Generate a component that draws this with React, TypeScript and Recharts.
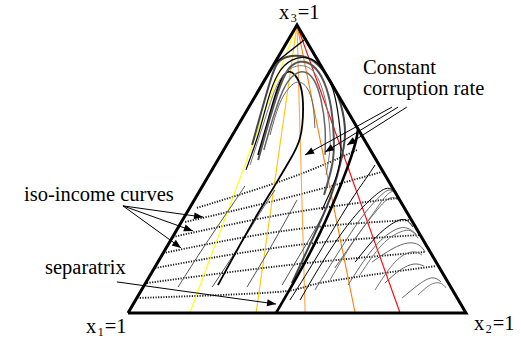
import React from 'react';
import { LineChart, Line, XAxis, YAxis } from 'recharts';

type Pt = [number, number];

// x = position along the x1 -> x2 edge, y = share of x3 (both in %)
const WIDTH = 521;
const HEIGHT = 340;
const MARGIN = { top: 10.6, right: 21.2, bottom: 12.6, left: 94.2 };
const X_DOMAIN: [number, number] = [-10, 110];
const Y_DOMAIN: [number, number] = [-5, 105];
const PX_X = (WIDTH - MARGIN.left - MARGIN.right) / (X_DOMAIN[1] - X_DOMAIN[0]);
const PX_Y = (HEIGHT - MARGIN.top - MARGIN.bottom) / (Y_DOMAIN[1] - Y_DOMAIN[0]);

const simplex: Pt[] = [[0, 0], [100, 0], [50, 100], [0, 0]];

// constant corruption rate rays, all leaving the x3 vertex
const apex: Pt = [50, 100];
const rayFeet = [18.3, 37.9, 52.4, 67.2, 80.5];
const rayColors = ['#ffff00', '#ffc400', '#ffa640', '#ff7a00', '#ff0000'];

const isoIncome: Pt[][] = [
  [[20.4, 36.5], [47.9, 46.9], [67.8, 56.6]],
  [[16.9, 31.6], [47.9, 40.3], [75.1, 49.0]],
  [[13.3, 26.4], [47.9, 34.7], [79.9, 39.9]],
  [[10.4, 20.8], [47.9, 28.8], [83.4, 32.3]],
  [[8.0, 15.6], [47.9, 23.3], [86.4, 27.1]],
  [[5.6, 10.4], [47.9, 16.7], [87.9, 21.2]],
  [[2.7, 5.2], [44.1, 7.3], [56.8, 10.4], [91.1, 16.3]],
];

const separatrix: Pt[] = [[43.8, 0], [50.3, 13.2], [56.8, 27.8], [62.1, 42.0], [65.7, 53.1], [67.5, 60.1], [68.0, 63.5]];

// trajectories that wind up near the x3 corner
const hooks: { pts: Pt[]; color: string; w: number }[] = [
  {
    pts: [[48.5, 10.4], [54.4, 25.3], [59.8, 39.9], [62.7, 51.4], [64.2, 61.8], [63.0, 72.2], [60.1, 80.2], [55.9, 86.5], [51.2, 89.2], [47.0, 88.9], [44.1, 86.5], [42.0, 80.2], [39.6, 70.5], [36.7, 58.3]],
    color: '#444', w: 2,
  },
  {
    pts: [[26.6, 9.7], [33.1, 23.6], [38.5, 34.7], [43.5, 44.4], [47.9, 53.1], [50.9, 60.8], [51.8, 70.5], [51.2, 78.1], [49.4, 82.6], [47.3, 83.7], [45.3, 80.9], [43.2, 74.0], [40.8, 64.2], [38.5, 54.9]],
    color: '#000', w: 1.8,
  },
  {
    pts: [[38.5, 53.1], [41.4, 65.3], [44.4, 76.7], [47.3, 84.4], [50.9, 87.2], [54.7, 85.8], [58.0, 80.2], [60.1, 71.2], [60.9, 60.8], [60.4, 51.4], [58.0, 41.0]],
    color: '#555', w: 2,
  },
  {
    pts: [[40.2, 56.6], [42.9, 67.7], [45.9, 77.4], [48.8, 82.3], [52.1, 83.7], [55.0, 80.9], [57.1, 74.0], [58.3, 64.2], [58.3, 54.9]],
    color: '#666', w: 1.5,
  },
  {
    pts: [[34.9, 49.7], [38.5, 61.8], [41.4, 74.0], [44.4, 83.0], [48.5, 87.8], [53.3, 88.5], [57.4, 85.1], [60.7, 77.4], [62.4, 67.0], [63.0, 56.6], [61.5, 46.9], [57.4, 35.8]],
    color: '#000', w: 1.2,
  },
  {
    pts: [[36.1, 51.4], [39.6, 63.9], [42.9, 75.7], [46.2, 83.0], [50.3, 85.8], [54.4, 84.4], [57.4, 78.1], [59.2, 68.8], [59.8, 58.3], [58.6, 47.9]],
    color: '#777', w: 1,
  },
  {
    pts: [[42.0, 61.8], [44.7, 72.2], [47.6, 78.1], [50.3, 80.2], [53.0, 78.1], [54.7, 72.2], [55.3, 64.2]],
    color: '#666', w: 1,
  },
];

const chord: Pt[] = [[43.5, 86.8], [52.1, 94.8]];

const lowerLeft: Pt[][] = [
  [[14.8, 9.0], [22.8, 23.6], [30.8, 37.5], [34.6, 44.1]],
  [[24.9, 9.0], [33.1, 23.6], [39.6, 35.8], [43.5, 42.7]],
  [[35.2, 9.0], [41.4, 21.2], [46.4, 31.6], [50.0, 39.2]],
  [[45.6, 9.7], [50.3, 19.1], [54.4, 27.1], [57.7, 34.0]],
];

// trajectories ending on the x2-x3 edge
const rightSide: { pts: Pt[]; color: string }[] = [
  { pts: [[47.9, 4.5], [55.3, 18.4], [64.2, 35.8], [70.1, 46.2], [73.1, 51.4]], color: '#000' },
  { pts: [[50.9, 4.5], [58.3, 19.1], [65.7, 31.6], [71.6, 39.2], [76.0, 43.1], [78.4, 42.7]], color: '#000' },
  { pts: [[55.3, 8.0], [62.7, 21.9], [69.2, 33.3], [74.0, 39.9], [77.2, 42.7], [79.3, 41.3]], color: '#666' },
  { pts: [[59.8, 11.5], [66.0, 23.6], [72.2, 34.0], [76.3, 40.6], [79.0, 42.4], [79.6, 40.6]], color: '#777' },
  { pts: [[61.2, 15.6], [68.0, 27.1], [73.7, 35.8], [77.5, 39.9], [80.2, 39.2]], color: '#666' },
  { pts: [[67.2, 17.7], [73.7, 26.7], [79.0, 31.6], [82.2, 32.3], [84.3, 29.9]], color: '#000' },
  { pts: [[65.1, 9.7], [72.2, 21.9], [78.4, 28.5], [82.5, 29.5], [85.2, 27.4]], color: '#666' },
  { pts: [[68.6, 13.2], [75.1, 23.6], [80.5, 28.1], [83.7, 28.5], [85.8, 26.0]], color: '#777' },
  { pts: [[72.2, 17.7], [78.1, 22.2], [82.8, 24.3], [86.1, 23.6], [87.9, 21.2]], color: '#666' },
  { pts: [[73.1, 8.0], [79.0, 17.7], [84.0, 21.2], [87.0, 20.1]], color: '#777' },
  { pts: [[76.0, 10.4], [80.5, 14.9], [84.6, 17.0], [87.6, 16.3]], color: '#666' },
  { pts: [[81.1, 5.2], [85.8, 9.7], [89.9, 12.2], [92.6, 10.8]], color: '#666' },
  { pts: [[85.8, 6.2], [89.3, 9.7], [92.3, 10.4], [94.1, 8.7]], color: '#777' },
];

// annotation pointers
const isoArrows: Pt[][] = [
  [[-1.5, 37.2], [22.2, 33.3]],
  [[-1.5, 37.2], [19.2, 28.5]],
  [[-1.5, 37.2], [15.7, 22.6]],
];
const separatrixArrow: Pt[] = [[-3.3, 10.8], [43.8, 3.1]];
const corruptionArrows: Pt[][] = [
  [[78.1, 71.5], [52.4, 54.9]],
  [[79.9, 71.5], [58.3, 55.9]],
  [[82.5, 71.5], [64.8, 58.3]],
];

const SERIF = '"Liberation Serif", "Times New Roman", Times, serif';
const labelStyle = { fontFamily: SERIF, fontSize: 20.5, fill: '#000' };

const toRows = (pts: Pt[]) => pts.map(([x, y]) => ({ x, y }));

const arrowHead = (pts: Pt[]) => (props: any) => {
  const { cx, cy, index } = props;
  if (index !== pts.length - 1) return <g key={`d${index}`} />;
  const [x0, y0] = pts[pts.length - 2];
  const [x1, y1] = pts[pts.length - 1];
  const ang = Math.atan2(-(y1 - y0) * PX_Y, (x1 - x0) * PX_X);
  const len = 9;
  const half = 3.5;
  const bx = cx - len * Math.cos(ang);
  const by = cy - len * Math.sin(ang);
  const nx = -Math.sin(ang) * half;
  const ny = Math.cos(ang) * half;
  return (
    <polygon
      key={`d${index}`}
      points={`${cx},${cy} ${bx + nx},${by + ny} ${bx - nx},${by - ny}`}
      fill="#000"
    />
  );
};

const curve = (key: string, pts: Pt[], stroke: string, width: number, extra: any = {}) => (
  <Line
    key={key}
    data={toRows(pts)}
    dataKey="y"
    type="natural"
    stroke={stroke}
    strokeWidth={width}
    dot={false}
    activeDot={false}
    isAnimationActive={false}
    {...extra}
  />
);

const App = () => {
  return (
    <div style={{ position: 'absolute', left: 0, top: 0, background: '#fff' }}>
      <LineChart width={WIDTH} height={HEIGHT} margin={MARGIN}>
        <XAxis type="number" dataKey="x" domain={X_DOMAIN} hide />
        <YAxis type="number" domain={Y_DOMAIN} hide />

        {isoIncome.map((c, i) => curve(`iso${i}`, c, '#1a1a1a', 1.9, { strokeDasharray: '1.2 1.4' }))}

        {rayFeet.map((f, i) => curve(`ray${i}`, [apex, [f, 0]], rayColors[i], 1.1, { type: 'linear' }))}

        {lowerLeft.map((c, i) => curve(`ll${i}`, c, '#555', 1))}
        {rightSide.map((c, i) => curve(`rs${i}`, c.pts, c.color, 1))}
        {hooks.map((h, i) => curve(`hk${i}`, h.pts, h.color, h.w))}
        {curve('chord', chord, '#000', 1.5, { type: 'linear' })}
        {curve('sep', separatrix, '#000', 2.6)}

        {curve('frame', simplex, '#000', 3, { type: 'linear', strokeLinejoin: 'miter' })}

        {isoArrows.map((a, i) => curve(`ia${i}`, a, '#000', 1, { type: 'linear', dot: arrowHead(a) }))}
        {curve('sa', separatrixArrow, '#000', 1, { type: 'linear', dot: arrowHead(separatrixArrow) })}
        {corruptionArrows.map((a, i) => curve(`ca${i}`, a, '#000', 1, { type: 'linear', dot: arrowHead(a) }))}

        <text x={24} y={201} style={labelStyle}>iso-income curves</text>
        <text x={45} y={274} style={labelStyle}>separatrix</text>
        <text x={363} y={73.5} style={labelStyle}>Constant</text>
        <text x={363} y={94.5} style={labelStyle}>corruption rate</text>
        <text x={279} y={19} style={labelStyle}>
          x<tspan style={{ fontSize: 12 }} dx={1.5} dy={3}>3</tspan>
          <tspan dx={1} dy={-3}>=1</tspan>
        </text>
        <text x={86} y={333} style={labelStyle}>
          x<tspan style={{ fontSize: 12 }} dx={1.5} dy={3}>1</tspan>
          <tspan dx={1} dy={-3}>=1</tspan>
        </text>
        <text x={474} y={330} style={labelStyle}>
          x<tspan style={{ fontSize: 12 }} dx={1.5} dy={3}>2</tspan>
          <tspan dx={1} dy={-3}>=1</tspan>
        </text>
      </LineChart>
    </div>
  );
};

export default App;
